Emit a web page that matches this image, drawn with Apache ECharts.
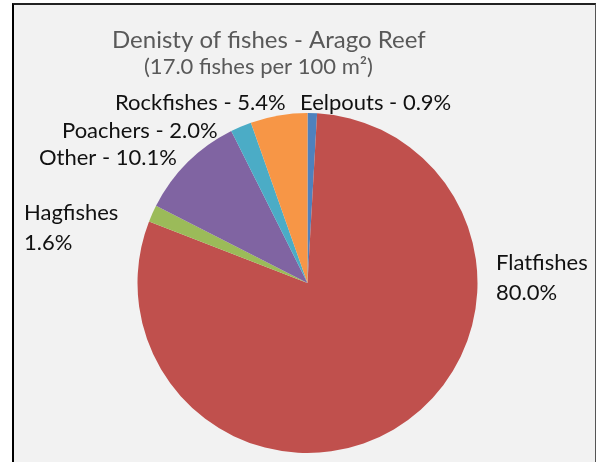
<!DOCTYPE html>
<html>
<head>
<meta charset="utf-8">
<script src="https://cdn.jsdelivr.net/npm/echarts@6/dist/echarts.min.js"></script>
<style>
html,body{margin:0;padding:0;background:#fff;width:597px;height:462px;overflow:hidden;}
#frame{position:absolute;left:12px;top:3px;width:581px;height:480px;background:#f2f2f2;border-left:2px solid #000;border-top:2px solid #222;border-right:1px solid #555;}
#chart{position:absolute;left:0;top:0;width:597px;height:462px;}
</style>
</head>
<body>
<div id="frame"></div>
<div id="chart"></div>
<script>
const categories = ['Eelpouts', 'Flatfishes', 'Hagfishes', 'Other', 'Poachers', 'Rockfishes'];
const percentValues = [0.9, 80.0, 1.6, 10.1, 2.0, 5.4];
const sliceColors = ['#4F81BD', '#C0504D', '#9BBB59', '#8064A2', '#4BACC6', '#F79646'];
const twoLineLabels = [false, true, true, false, false, false];
const titleText = 'Denisty of fishes - Arago Reef';
const subtitleText = '(17.0 fishes per 100 m\u00B2)';

// label anchor positions (left x, middle y), in pixels
const labelAnchors = [[300, 103], [496, 278], [24, 228], [39, 158], [62, 131], [115, 103]];

const FONT = 'Lato';
const chart = echarts.init(document.getElementById('chart'), null, {renderer: 'canvas'});
chart.setOption({
  backgroundColor: 'transparent',
  animation: false,
  title: [
    {text: titleText, left: 107, top: 23, textStyle: {fontFamily: FONT, fontSize: 24, fontWeight: 'normal', color: '#595959'}},
    {text: subtitleText, left: 139, top: 51, textStyle: {fontFamily: FONT, fontSize: 22, fontWeight: 'normal', color: '#595959'}}
  ],
  series: [{
    type: 'pie',
    center: [307.5, 283],
    radius: [0, 170],
    startAngle: 90,
    clockwise: true,
    data: categories.map((c, i) => ({name: c, value: percentValues[i], itemStyle: {color: sliceColors[i]}})),
    label: {
      show: true,
      fontFamily: FONT,
      fontSize: 22,
      color: '#111',
      lineHeight: 30,
      overflow: 'none',
      width: 300,
      formatter: p => twoLineLabels[p.dataIndex]
        ? p.name + '\n' + percentValues[p.dataIndex].toFixed(1) + '%'
        : p.name + ' - ' + percentValues[p.dataIndex].toFixed(1) + '%'
    },
    labelLine: {show: false},
    labelLayout: p => ({
      x: labelAnchors[p.dataIndex][0],
      y: labelAnchors[p.dataIndex][1],
      align: 'left',
      verticalAlign: 'middle'
    }),
    emphasis: {disabled: true}
  }]
});
</script>
</body>
</html>
